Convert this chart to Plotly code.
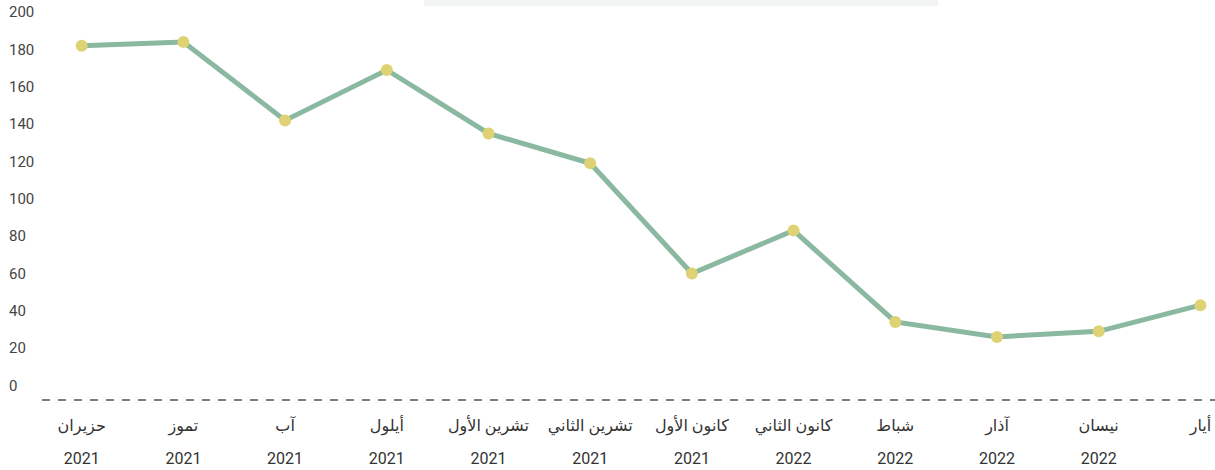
import plotly.graph_objects as go

months = ["حزيران", "تموز", "آب", "أيلول", "تشرين الأول", "تشرين الثاني",
          "كانون الأول", "كانون الثاني", "شباط", "آذار", "نيسان", "أيار"]
years = ["2021", "2021", "2021", "2021", "2021", "2021",
         "2021", "2022", "2022", "2022", "2022", "2022"]
values = [182, 184, 142, 169, 135, 119, 60, 83, 34, 26, 29, 43]
y_ticks = [0, 20, 40, 60, 80, 100, 120, 140, 160, 180, 200]

W, H = 1215, 470
L, R, T, B = 6, 0, 0, 70
idx = list(range(len(months)))
first_px, step_px = 81.7, 101.7
x_range = [-(first_px - L) / step_px, (W - R - first_px) / step_px]

LINE = "rgb(138,184,160)"
MARK = "rgb(222,210,116)"
FONT = "Roboto, DejaVu Sans, sans-serif"

fig = go.Figure()
fig.add_trace(go.Scatter(
    x=idx, y=values, mode="lines+markers",
    line=dict(color=LINE, width=5),
    marker=dict(color=MARK, size=12),
    hoverinfo="y", showlegend=False,
))
fig.add_trace(go.Scatter(
    x=idx, y=values, xaxis="x2", mode="markers",
    marker=dict(opacity=0), hoverinfo="skip", showlegend=False,
))

fig.update_layout(
    width=W, height=H,
    margin=dict(l=L, r=R, t=T, b=B),
    paper_bgcolor="white", plot_bgcolor="white",
    font=dict(family=FONT, color="#333"),
    xaxis=dict(
        range=x_range, tickvals=idx, ticktext=months,
        showgrid=False, zeroline=False, showline=False, ticks="",
        tickfont=dict(size=16, color="#333"), ticklabelstandoff=14,
    ),
    xaxis2=dict(
        range=x_range, tickvals=idx, ticktext=years, overlaying="x",
        side="bottom", anchor="y",
        showgrid=False, zeroline=False, showline=False, ticks="",
        tickfont=dict(size=16, color="#333"), ticklabelstandoff=47,
    ),
    yaxis=dict(
        range=[-7.8, 206.5], tickvals=y_ticks,
        showgrid=False, zeroline=False, showline=False, ticks="",
        ticklabelposition="inside",
        tickfont=dict(size=15, color="#444"),
    ),
    shapes=[
        dict(type="line", xref="paper", yref="paper",
             x0=(42 - L) / (W - L - R), x1=1, y0=0, y1=0,
             line=dict(color="#7d7d7d", width=2, dash="8px,8px"), layer="below"),
        dict(type="rect", xref="paper", yref="paper",
             x0=(424 - L) / (W - L - R), x1=(938 - L) / (W - L - R),
             y0=1 - 6 / (H - T - B), y1=1,
             fillcolor="#f3f5f4", line=dict(width=0), layer="below"),
    ],
)

fig.write_html(
    "out.html",
    config={"displayModeBar": False},
    post_script="document.body.style.margin='0';document.body.style.overflow='hidden';",
)
